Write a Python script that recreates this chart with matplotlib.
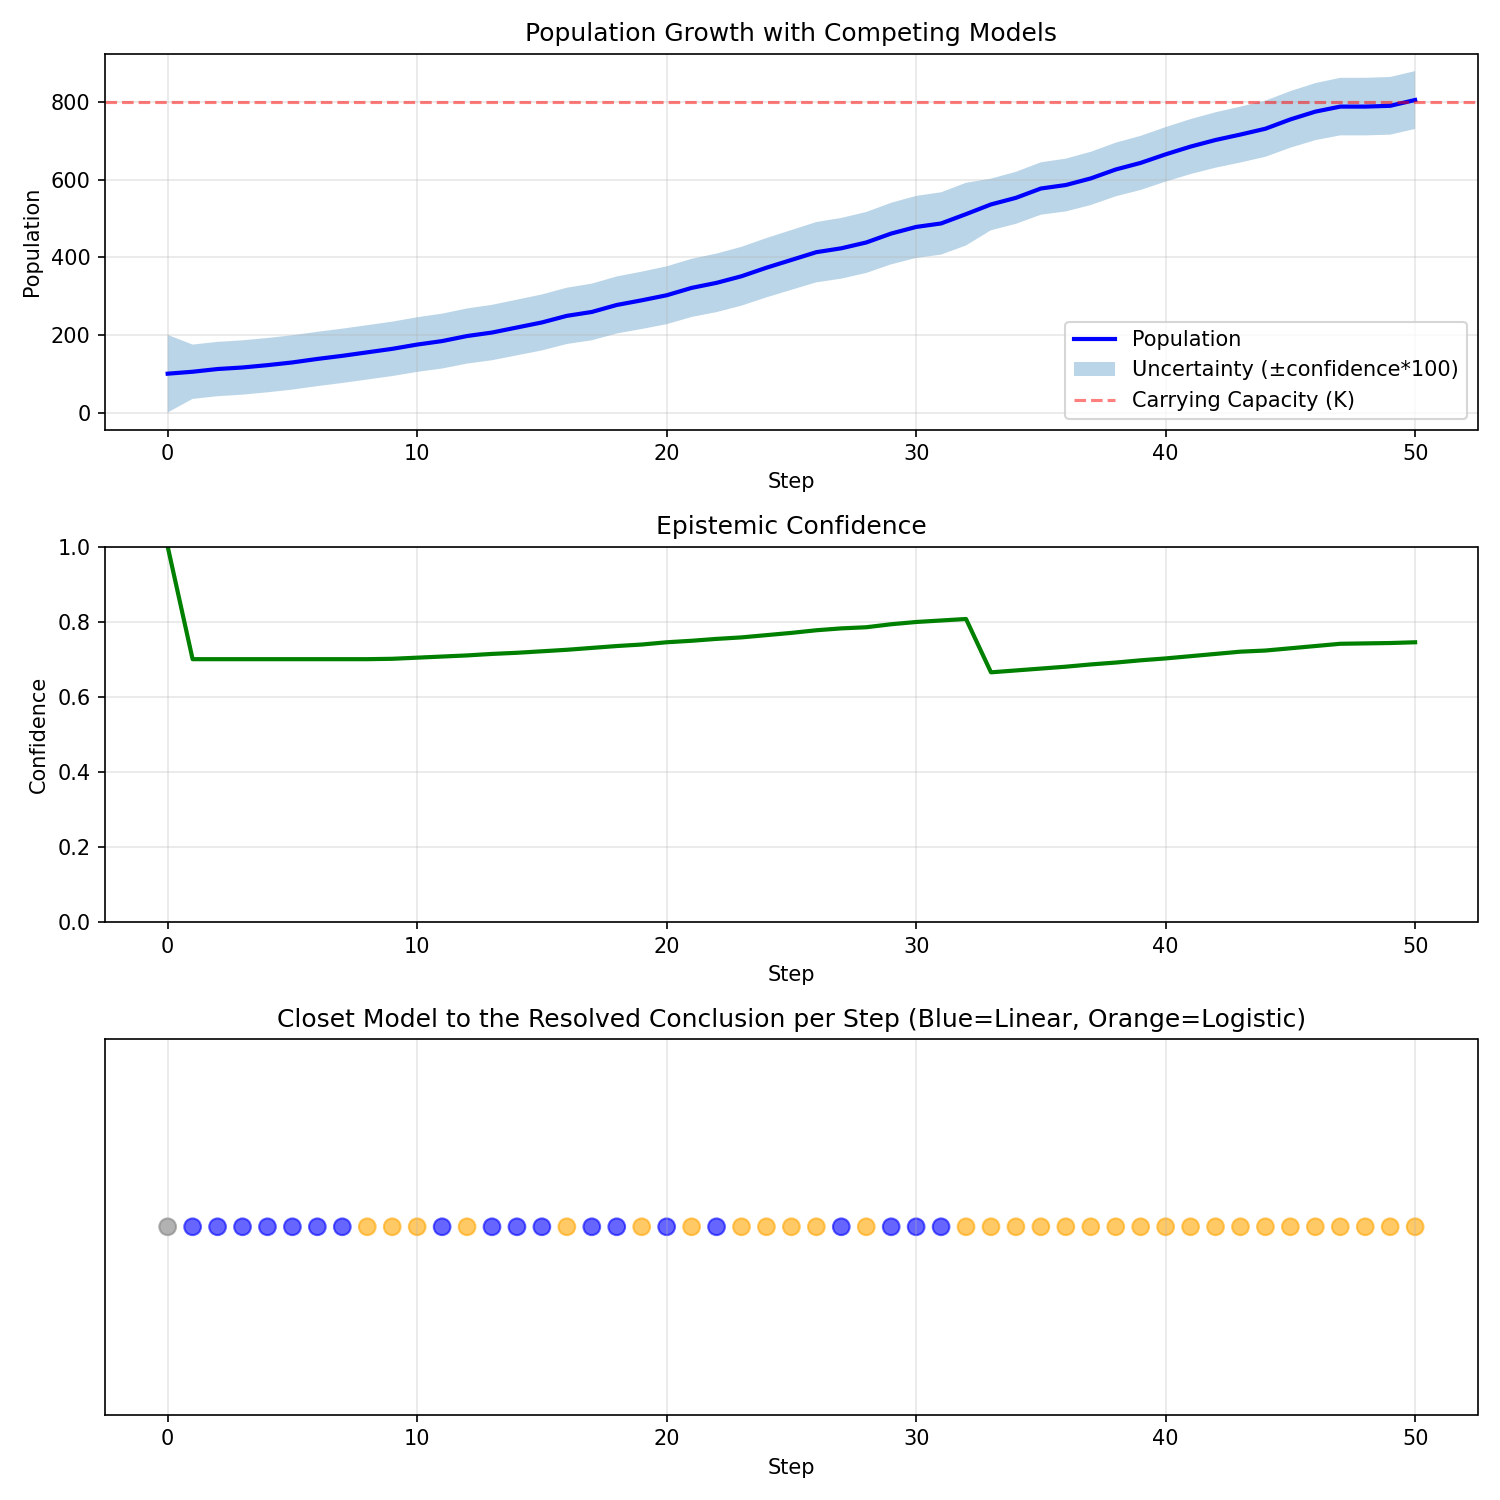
import numpy as np
import matplotlib
matplotlib.use("Agg")
import matplotlib.pyplot as plt

steps = list(range(51))
population = [100, 105, 112, 116, 122, 129, 138, 146, 155, 164,
              175, 184, 197, 206, 219, 232, 249, 259, 277, 289,
              302, 321, 334, 351, 373, 393, 413, 423, 438, 461,
              478, 487, 511, 536, 553, 577, 586, 603, 626, 643,
              665, 685, 702, 716, 731, 755, 775, 788, 788, 790,
              805]
confidence = [1.0, 0.70, 0.70, 0.70, 0.70, 0.70, 0.70, 0.70, 0.70, 0.701,
              0.704, 0.707, 0.710, 0.714, 0.717, 0.721, 0.725, 0.730, 0.735, 0.739,
              0.745, 0.749, 0.754, 0.758, 0.764, 0.770, 0.777, 0.782, 0.785, 0.793,
              0.799, 0.803, 0.807, 0.665, 0.670, 0.675, 0.680, 0.686, 0.691, 0.697,
              0.702, 0.708, 0.714, 0.720, 0.723, 0.729, 0.735, 0.741, 0.742, 0.743,
              0.745]
carrying_capacity = 800
closest_model = ["none"] + ["linear"] * 7 + ["logistic"] * 3 + ["linear", "logistic"] \
    + ["linear"] * 3 + ["logistic", "linear", "linear", "logistic", "linear", "logistic",
                        "linear", "logistic", "logistic", "logistic", "logistic", "linear",
                        "logistic", "linear", "linear", "linear"] + ["logistic"] * 19
model_colors = {"none": "gray", "linear": "blue", "logistic": "orange"}

steps_a = np.array(steps)
pop_a = np.array(population)
conf_a = np.array(confidence)

fig, axes = plt.subplots(3, 1, figsize=(10, 10), dpi=150)

ax = axes[0]
ax.plot(steps_a, pop_a, color="blue", lw=2, label="Population")
ax.fill_between(steps_a, pop_a - conf_a * 100, pop_a + conf_a * 100, alpha=0.3,
                label="Uncertainty (±confidence*100)")
ax.axhline(carrying_capacity, color="red", ls="--", alpha=0.5, label="Carrying Capacity (K)")
ax.set_title("Population Growth with Competing Models")
ax.set_xlabel("Step")
ax.set_ylabel("Population")
ax.legend(loc="lower right")
ax.grid(True, alpha=0.3)

ax = axes[1]
ax.plot(steps_a, conf_a, color="green", lw=2)
ax.set_ylim(0, 1)
ax.set_title("Epistemic Confidence")
ax.set_xlabel("Step")
ax.set_ylabel("Confidence")
ax.grid(True, alpha=0.3)

ax = axes[2]
cols = [model_colors[m] for m in closest_model]
ax.scatter(steps_a, np.zeros(len(steps_a)), c=cols, s=64, alpha=0.6)
ax.set_yticks([])
ax.set_title("Closet Model to the Resolved Conclusion per Step (Blue=Linear, Orange=Logistic)")
ax.set_xlabel("Step")
ax.grid(True, alpha=0.3)

fig.tight_layout()
fig.savefig("out.png", dpi=150)
